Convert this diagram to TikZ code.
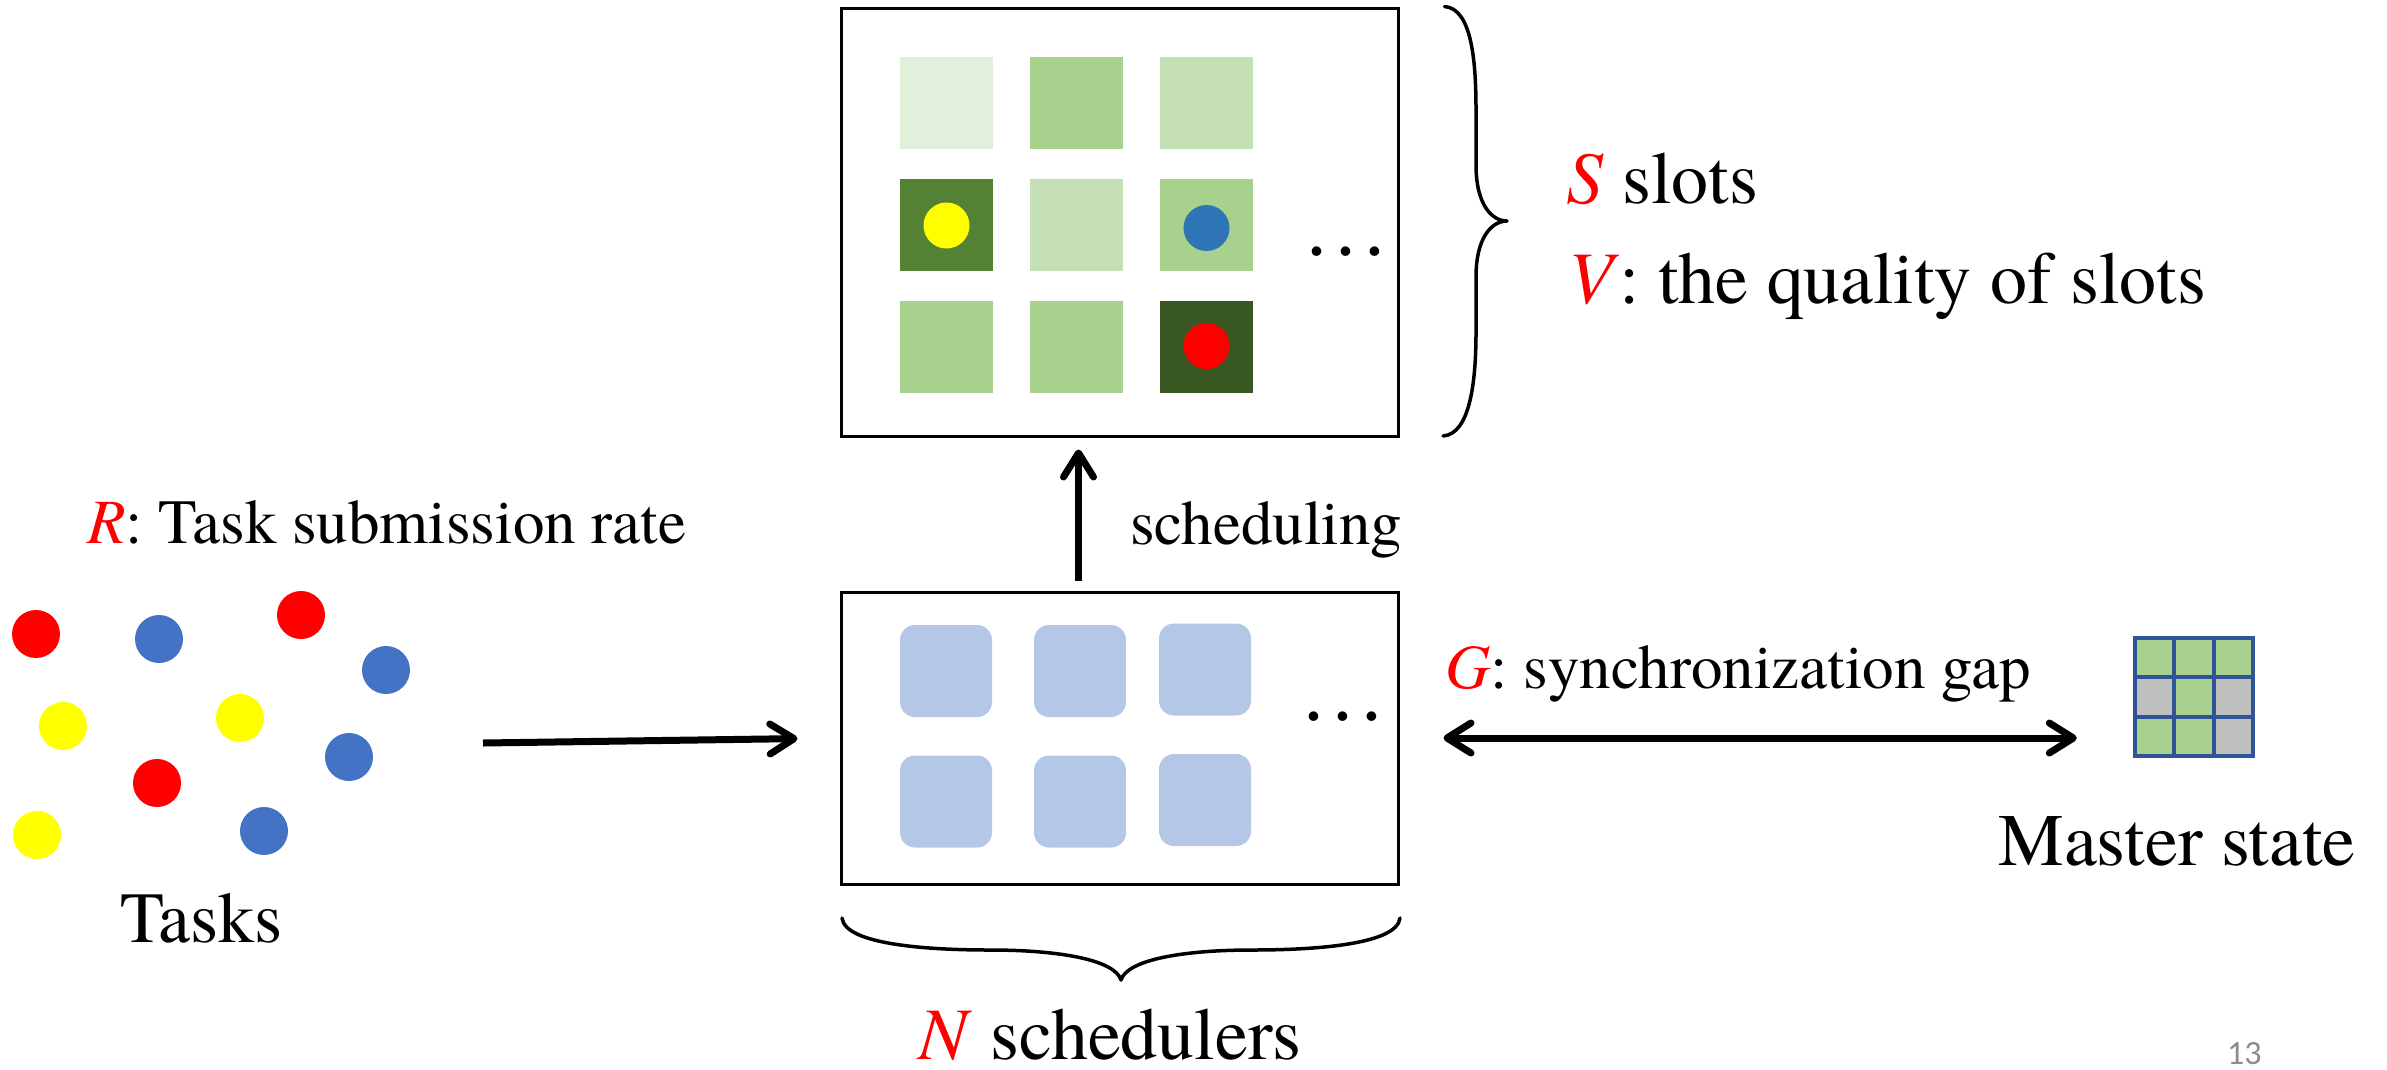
\documentclass[tikz,border=0pt]{standalone}
\usepackage{fontspec}
\setmainfont{texgyretermes}[Extension=.otf,
  UprightFont=*-regular, ItalicFont=*-italic,
  BoldFont=*-bold, BoldItalicFont=*-bolditalic]
\newfontfamily\pagenumfont{Carlito}
\usetikzlibrary{arrows.meta}

\definecolor{slotpale}{HTML}{E2EFDA}
\definecolor{slotmid}{HTML}{A9D18E}
\definecolor{slotlight}{HTML}{C5E0B4}
\definecolor{slotdark}{HTML}{548235}
\definecolor{slotdeep}{HTML}{385723}
\definecolor{slotblue}{HTML}{2E75B6}
\definecolor{taskblue}{HTML}{4472C4}
\definecolor{taskyellow}{HTML}{FFFF00}
\definecolor{taskred}{HTML}{FF0000}
\definecolor{schedblue}{HTML}{B4C7E7}
\definecolor{gridline}{HTML}{2F5597}
\definecolor{gridgray}{HTML}{BFBFBF}
\definecolor{pagegray}{HTML}{8C8C8C}

\newcommand{\redvar}[1]{\textcolor{taskred}{\textit{#1}}}

\begin{document}
\begin{tikzpicture}[x=1pt,y=-1pt,
  box/.style={draw=black, line width=3pt, inner sep=0pt, minimum width=557pt},
  slotsq/.style={minimum width=93pt, minimum height=92pt, inner sep=0pt, outer sep=0pt},
  schedsq/.style={fill=schedblue, rounded corners=15pt, minimum width=92pt, minimum height=92pt, inner sep=0pt},
  token/.style={circle, minimum size=46pt, inner sep=0pt},
  task/.style={circle, minimum size=48pt, inner sep=0pt},
  cell/.style={minimum size=39.3pt, inner sep=0pt, outer sep=0pt, draw=gridline, line width=4pt},
  lbl/.style={anchor=base west, inner sep=0pt},
  biglbl/.style={lbl, font=\rmfamily\fontsize{74}{80}\selectfont},
  midlbl/.style={lbl, font=\rmfamily\fontsize{63}{70}\selectfont},
  dots/.style={anchor=base, inner sep=0pt, font=\rmfamily\fontsize{87}{90}\selectfont},
  barb/.tip={Straight Barb[length=24pt, width=30pt, round]},
  flow/.style={line width=7pt},
  bracestroke/.style={line width=3.5pt, line cap=round, line join=round}
]
\useasboundingbox (0,0) rectangle (2387,1069);

% ---------- slot pool ----------
\node[box, minimum height=428pt] (slots) at (1119.5,222) {};
\foreach \r/\y in {1/103,2/224.5,3/347}{
  \foreach \c/\x in {1/946.5,2/1076.5,3/1206.5}{
    \coordinate (slotpos-\r-\c) at (\x,\y);
  }
}
\node[slotsq, fill=slotpale]  (slot-1-1) at (slotpos-1-1) {};
\node[slotsq, fill=slotmid]   (slot-1-2) at (slotpos-1-2) {};
\node[slotsq, fill=slotlight] (slot-1-3) at (slotpos-1-3) {};
\node[slotsq, fill=slotdark]  (slot-2-1) at (slotpos-2-1) {};
\node[slotsq, fill=slotlight] (slot-2-2) at (slotpos-2-2) {};
\node[slotsq, fill=slotmid]   (slot-2-3) at (slotpos-2-3) {};
\node[slotsq, fill=slotmid]   (slot-3-1) at (slotpos-3-1) {};
\node[slotsq, fill=slotmid]   (slot-3-2) at (slotpos-3-2) {};
\node[slotsq, fill=slotdeep]  (slot-3-3) at (slotpos-3-3) {};
\node[token, fill=taskyellow] (tok-y) at ([yshift=-1pt]slot-2-1.center) {};
\node[token, fill=slotblue]   (tok-b) at ([yshift=-3.5pt]slot-2-3.center) {};
\node[token, fill=taskred]    (tok-r) at ([yshift=1pt]slot-3-3.center) {};
\node[dots] (slotdots) at (1346,255) {…};

% ---------- schedulers ----------
\node[box, minimum height=292pt] (sched) at (1119.5,738) {};
\node[schedsq] (sch-1-1) at (946,671) {};
\node[schedsq] (sch-1-2) at (1080,671) {};
\node[schedsq] (sch-1-3) at (1205,669.5) {};
\node[schedsq] (sch-2-1) at (946,801.5) {};
\node[schedsq] (sch-2-2) at (1080,801.5) {};
\node[schedsq] (sch-2-3) at (1205,800) {};
\node[dots] (scheddots) at (1343,720) {…};

% ---------- incoming tasks ----------
\node[task, fill=taskred]    (t1)  at (36,634) {};
\node[task, fill=taskblue]   (t2)  at (159,639) {};
\node[task, fill=taskred]    (t3)  at (301,615) {};
\node[task, fill=taskblue]   (t4)  at (386,670) {};
\node[task, fill=taskyellow] (t5)  at (63,726) {};
\node[task, fill=taskyellow] (t6)  at (240,718) {};
\node[task, fill=taskblue]   (t7)  at (349,757) {};
\node[task, fill=taskred]    (t8)  at (157,783) {};
\node[task, fill=taskyellow] (t9)  at (37,835) {};
\node[task, fill=taskblue]   (t10) at (264,831) {};

% ---------- master state ----------
\node[minimum width=118pt, minimum height=118pt, inner sep=0pt] (master) at (2194,697) {};
\node[cell, fill=slotmid]  (m-1-1) at (2154.65,657.65) {};
\node[cell, fill=slotmid]  (m-1-2) at (2193.95,657.65) {};
\node[cell, fill=slotmid]  (m-1-3) at (2233.25,657.65) {};
\node[cell, fill=gridgray] (m-2-1) at (2154.65,696.95) {};
\node[cell, fill=slotmid]  (m-2-2) at (2193.95,696.95) {};
\node[cell, fill=gridgray] (m-2-3) at (2233.25,696.95) {};
\node[cell, fill=slotmid]  (m-3-1) at (2154.65,736.25) {};
\node[cell, fill=slotmid]  (m-3-2) at (2193.95,736.25) {};
\node[cell, fill=gridgray] (m-3-3) at (2233.25,736.25) {};

% ---------- labels ----------
\node[midlbl] (ratelbl) at (87,543) {\redvar{R}: Task submission rate};
\node[biglbl, font=\rmfamily\fontsize{72}{78}\selectfont] (taskslbl) at (120,942) {Tasks};
\node[midlbl] (schedlbl) at (1130,544) {scheduling};
\node[midlbl] (gaplbl) at (1445,688) {\redvar{G}: synchronization gap};
\node[biglbl] (masterlbl) at (1998,865) {Master state};
\node[biglbl, text depth=0pt] (nlbl) at (918,1059) {\redvar{N} schedulers};
\node[biglbl] (slbl) at (1566,203) {\redvar{S} slots};
\node[biglbl] (vlbl) at (1568,303) {\redvar{V}: the quality of slots};
\node[anchor=base west, inner sep=0pt, text depth=0pt, text=pagegray,
      font=\pagenumfont\fontsize{34}{40}\selectfont] (pagenum) at (2227,1064) {13};

% ---------- connectors ----------
\coordinate (taskout) at (483,743);
\draw[flow, -{barb}, shorten >=42pt] (taskout) -- (sched.west);
\draw[flow, -{barb}, shorten <=10pt, shorten >=12pt]
  ([xshift=-41pt]sched.north) -- ([xshift=-41pt]slots.south);
\draw[flow, {barb}-{barb}, shorten <=44pt, shorten >=58pt]
  (sched.east) -- (sched.east -| master.west);

% ---------- braces ----------
\draw[bracestroke] (slots.north east) ++(45,0)
  .. controls ++(27,2) and (1476,60) .. (1476,110) -- (1476,165)
  .. controls (1476,205) and (1492,221) .. (1507,221)
  .. controls (1492,221) and (1476,237) .. (1476,277) -- (1476,332)
  .. controls (1476,382) and (1470,434) .. (1443,436);
\draw[bracestroke] (842,918)
  .. controls (845,945) and (930,950) .. (990,950)
  .. controls (1060,950) and (1115,960) .. (1121,980)
  .. controls (1127,960) and (1182,950) .. (1252,950)
  .. controls (1312,950) and (1397,945) .. (1400,918);
\end{tikzpicture}
\end{document}
